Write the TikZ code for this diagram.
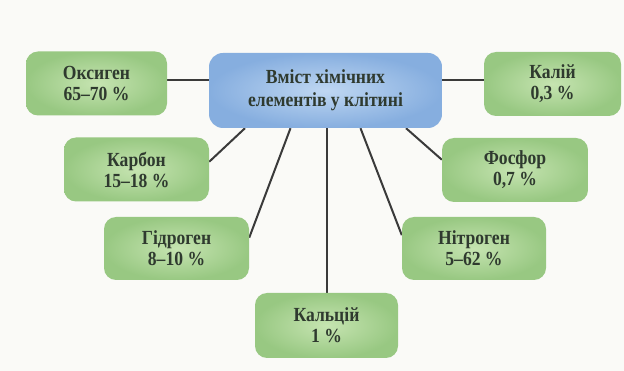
\documentclass[tikz,border=0pt]{standalone}
\usepackage{fontspec}
\setmainfont[FakeStretch=0.88]{Liberation Serif}
\usetikzlibrary{calc,backgrounds}
\definecolor{txt}{HTML}{2F3A2F}
\definecolor{gin}{HTML}{C6E4B1}
\definecolor{gout}{HTML}{98C882}
\definecolor{bin}{HTML}{BFD7F2}
\definecolor{bout}{HTML}{86AEDF}
\definecolor{lnk}{HTML}{3A3A3A}
\definecolor{bg}{HTML}{FAFAF7}
\tikzset{
  elem/.style={rectangle, rounded corners=12pt, inner color=gin, outer color=gout,
    text=txt, align=center, font=\bfseries\fontsize{20}{21}\selectfont,
    minimum width=#1, minimum height=64pt, inner sep=2pt},
  elem/.default=144pt,
  hub/.style={rectangle, rounded corners=14pt, inner color=bin, outer color=bout,
    text=txt, align=center, font=\bfseries\fontsize{20}{23}\selectfont,
    minimum width=233pt, minimum height=75pt},
  link/.style={draw=lnk, line width=2pt}
}
\begin{document}
\begin{tikzpicture}[x=1pt,y=-1pt]
\useasboundingbox (0,0) rectangle (624,371);
\node[hub] (ctr) at (325.5,90.5) {Вміст хімічних\\елементів у клітині};
\node[elem=141pt] (ox) at (96.5,83.5) {Оксиген\\65–70 \%};
\node[elem=137pt] (kal) at (552.5,84) {Калій\\0,3 \%};
\node[elem=145pt] (carb) at (136.5,169.5) {Карбон\\15–18 \%};
\node[elem=146pt] (fos) at (515,170) {Фосфор\\0,7 \%};
\node[elem=145pt,minimum height=63pt] (hyd) at (176.5,248.5) {Гідроген\\8–10 \%};
\node[elem=144pt,minimum height=63pt] (nit) at (474,248.5) {Нітроген\\5–62 \%};
\node[elem=143pt,minimum height=65pt] (cal) at (326.5,325.5) {Кальцій\\1 \%};
\begin{pgfonlayer}{background}
\fill[bg] (0,0) rectangle (624,371);
\coordinate (oxp) at ($(ox.north east)!0.44!(ox.south east)$);
\coordinate (kalp) at ($(kal.north west)!0.44!(kal.south west)$);
\draw[link] (oxp) -- (oxp -| ctr.west);
\draw[link] (kalp) -- (kalp -| ctr.east);
\draw[link] ($(carb.north east)!0.38!(carb.south east)$) -- ($(ctr.south west)!0.155!(ctr.south east)$);
\draw[link] ($(hyd.north east)!0.33!(hyd.south east)$) -- ($(ctr.south west)!0.35!(ctr.south east)$);
\draw[link] (cal.north) -- (cal.north |- ctr.south);
\draw[link] ($(nit.north west)!0.29!(nit.south west)$) -- ($(ctr.south west)!0.65!(ctr.south east)$);
\draw[link] ($(fos.north west)!0.34!(fos.south west)$) -- ($(ctr.south west)!0.845!(ctr.south east)$);
\end{pgfonlayer}
\end{tikzpicture}
\end{document}
